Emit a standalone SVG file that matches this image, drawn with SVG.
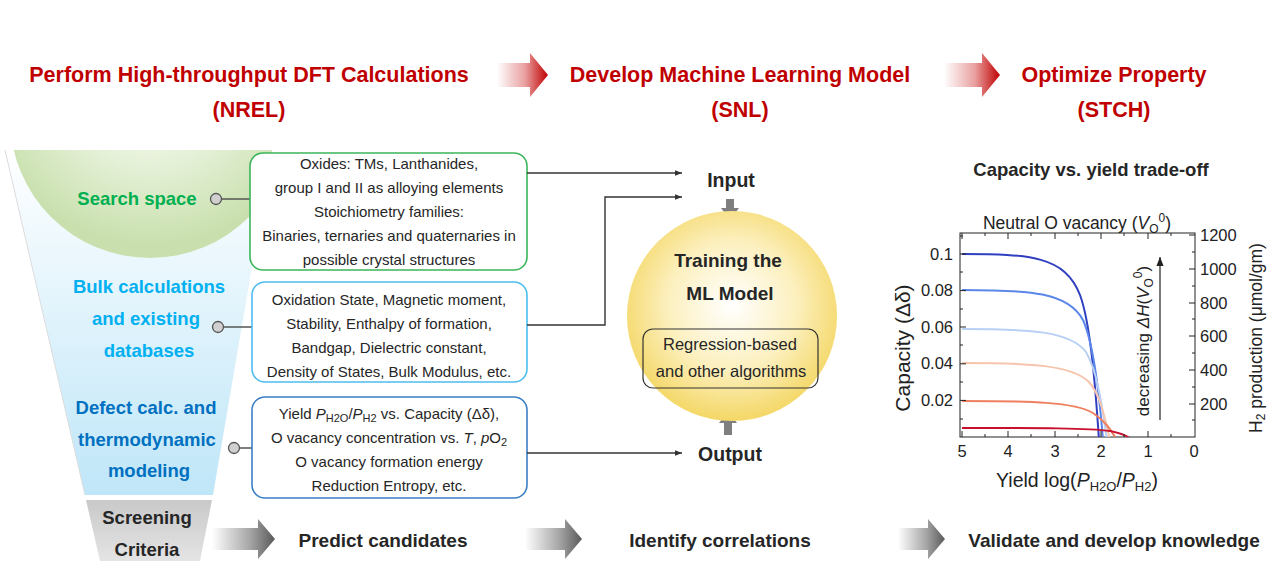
<svg xmlns="http://www.w3.org/2000/svg" width="1268" height="561" viewBox="0 0 1268 561">
<defs>
<style>
text{font-family:"Liberation Sans",Arial,sans-serif;}
.hdr{font-size:21.5px;font-weight:bold;fill:#C00000;text-anchor:middle;}
.box{fill:#fff;stroke-width:1.6;}
.bt{font-size:15px;fill:#262626;text-anchor:middle;}
.lab{font-size:18.5px;font-weight:bold;text-anchor:middle;}
.io{font-size:19.5px;font-weight:bold;fill:#262626;text-anchor:middle;}
.step{font-size:19px;font-weight:bold;fill:#262626;text-anchor:middle;}
.conn{fill:none;stroke:#333;stroke-width:1.4;}
.dot{fill:#d0d0d0;stroke:#555;stroke-width:1.3;}
.tick{font-size:16.5px;fill:#222;}
.crv{fill:none;stroke-width:2;}
.ax{stroke:#222;stroke-width:1;}
</style>
<linearGradient id="redArr" x1="0" y1="0" x2="1" y2="0">
<stop offset="0" stop-color="#fff"/>
<stop offset="0.55" stop-color="#e9a0a0"/>
<stop offset="1" stop-color="#c00000"/>
</linearGradient>
<linearGradient id="grayArr" x1="0" y1="0" x2="1" y2="0">
<stop offset="0" stop-color="#fff"/>
<stop offset="0.6" stop-color="#a6a6a6"/>
<stop offset="1" stop-color="#595959"/>
</linearGradient>
<linearGradient id="funnelG" x1="0" y1="0" x2="0" y2="1">
<stop offset="0" stop-color="#ffffff"/>
<stop offset="1" stop-color="#bfe6f8"/>
</linearGradient>
<radialGradient id="greenG" cx="0.5" cy="0.35" r="0.6">
<stop offset="0" stop-color="#ffffff"/>
<stop offset="0.55" stop-color="#e4f0d6"/>
<stop offset="1" stop-color="#c9e0ae"/>
</radialGradient>
<radialGradient id="yellowG" cx="0.5" cy="0.45" r="0.55">
<stop offset="0" stop-color="#ffffff"/>
<stop offset="0.55" stop-color="#fcf0bf"/>
<stop offset="1" stop-color="#f4d766"/>
</radialGradient>
<linearGradient id="screenG" x1="0" y1="0" x2="0" y2="1">
<stop offset="0" stop-color="#c9c9c9"/>
<stop offset="1" stop-color="#e4e4e4"/>
</linearGradient>
<clipPath id="funnelClip"><polygon points="5,150 272,150 213,495 85,495"/></clipPath>
<clipPath id="plotClip"><rect x="960" y="233" width="235" height="204"/></clipPath>
<marker id="ah" viewBox="0 0 10 10" refX="10" refY="5" markerWidth="7" markerHeight="7" orient="auto" markerUnits="userSpaceOnUse">
<path d="M0,1 L10,5 L0,9 Z" fill="#333"/>
</marker>
<marker id="ah2" viewBox="0 0 10 10" refX="10" refY="5" markerWidth="9" markerHeight="9" orient="auto" markerUnits="userSpaceOnUse">
<path d="M0,1 L10,5 L0,9 Z" fill="#222"/>
</marker>
</defs>

<rect width="1268" height="561" fill="#fff"/>

<!-- Header -->
<g id="header">
<text class="hdr" x="249" y="82">Perform High-throughput DFT Calculations</text>
<text class="hdr" x="249" y="117">(NREL)</text>
<text class="hdr" x="740" y="82">Develop Machine Learning Model</text>
<text class="hdr" x="740" y="117">(SNL)</text>
<text class="hdr" x="1114" y="82">Optimize Property</text>
<text class="hdr" x="1114" y="117">(STCH)</text>
<path d="M497,63 H530 V53 L548,75 L530,97 V87 H497 Z" fill="url(#redArr)"/>
<path d="M944,63 H982 V53 L1000,75 L982,97 V87 H944 Z" fill="url(#redArr)"/>
</g>

<!-- Funnel -->
<g id="funnel">
<polygon points="5,150 272,150 213,495 85,495" fill="url(#funnelG)"/>
<circle cx="150" cy="118" r="140" fill="url(#greenG)" clip-path="url(#funnelClip)"/>
<line x1="5" y1="150" x2="85" y2="495" stroke="#dcdcdc" stroke-width="1"/>
</g>

<g id="screening">
<polygon points="86,500 212,500 200,561 100,561" fill="url(#screenG)"/>
<text class="lab" x="147" y="524" fill="#262626">Screening</text>
<text class="lab" x="147" y="556" fill="#262626">Criteria</text>
</g>

<g id="search-space">
<text class="lab" x="137" y="205" fill="#00B050">Search space</text>
<circle class="dot" cx="216" cy="199" r="5.5"/>
<line x1="221.5" y1="199" x2="250" y2="199" stroke="#555" stroke-width="1.5"/>
</g>

<g id="bulk">
<text class="lab" x="149" y="293" fill="#00B0F0">Bulk calculations</text>
<text class="lab" x="146" y="325" fill="#00B0F0">and existing</text>
<text class="lab" x="149" y="357" fill="#00B0F0">databases</text>
<circle class="dot" cx="218" cy="327" r="5.5"/>
<line x1="223.5" y1="327" x2="252" y2="327" stroke="#555" stroke-width="1.5"/>
</g>

<g id="defect">
<text class="lab" x="146" y="414" fill="#0070C0">Defect calc. and</text>
<text class="lab" x="147" y="446" fill="#0070C0">thermodynamic</text>
<text class="lab" x="149" y="477" fill="#0070C0">modeling</text>
<circle class="dot" cx="234" cy="448" r="5.5"/>
<line x1="239.5" y1="448" x2="252" y2="448" stroke="#555" stroke-width="1.5"/>
</g>

<!-- Boxes -->
<g id="box-search">
<rect class="box" x="250" y="153" width="277" height="117" rx="13" stroke="#3cb55a"/>
<text class="bt" x="389" y="169">Oxides: TMs, Lanthanides,</text>
<text class="bt" x="389" y="193">group I and II as alloying elements</text>
<text class="bt" x="389" y="217">Stoichiometry families:</text>
<text class="bt" x="389" y="241">Binaries, ternaries and quaternaries in</text>
<text class="bt" x="389" y="265">possible crystal structures</text>
</g>

<g id="box-bulk">
<rect class="box" x="252" y="282" width="275" height="100" rx="13" stroke="#4dbdf0"/>
<text class="bt" x="389" y="305">Oxidation State, Magnetic moment,</text>
<text class="bt" x="389" y="329">Stability, Enthalpy of formation,</text>
<text class="bt" x="389" y="353">Bandgap, Dielectric constant,</text>
<text class="bt" x="389" y="377">Density of States, Bulk Modulus, etc.</text>
</g>

<g id="box-defect">
<rect class="box" x="252" y="397" width="275" height="101" rx="13" stroke="#3a7fc4"/>
<text class="bt" x="389" y="419">Yield <tspan font-style="italic">P</tspan><tspan font-size="11" dy="3">H2O</tspan><tspan dy="-3">/</tspan><tspan font-style="italic">P</tspan><tspan font-size="11" dy="3">H2</tspan><tspan dy="-3"> vs. Capacity (Δδ),</tspan></text>
<text class="bt" x="389" y="443">O vacancy concentration vs. <tspan font-style="italic">T</tspan>, <tspan font-style="italic">p</tspan>O<tspan font-size="11" dy="3">2</tspan></text>
<text class="bt" x="389" y="467">O vacancy formation energy</text>
<text class="bt" x="389" y="491">Reduction Entropy, etc.</text>
</g>

<!-- Connectors -->
<g id="connectors">
<polyline class="conn" points="527,173 682,173" marker-end="url(#ah)"/>
<polyline class="conn" points="527,325 605,325 605,197 682,197" marker-end="url(#ah)"/>
<polyline class="conn" points="527,453 682,453" marker-end="url(#ah)"/>
<path d="M726,199 H734 V208 H739 L730,220 L721,208 H726 Z" fill="#7f7f7f"/>
<path d="M724,435 H732 V423 H737 L728,411 L719,423 H724 Z" fill="#7f7f7f"/>
</g>

<g id="input"><text class="io" x="731" y="187">Input</text></g>
<g id="output"><text class="io" x="730" y="461">Output</text></g>

<!-- ML model -->
<g id="ml-model">
<circle cx="732" cy="316" r="105" fill="url(#yellowG)"/>
<text x="728" y="267" font-size="19" font-weight="bold" fill="#262626" text-anchor="middle">Training the</text>
<text x="730" y="300" font-size="19" font-weight="bold" fill="#262626" text-anchor="middle">ML Model</text>
<rect x="643" y="329" width="175" height="59" rx="10" fill="none" stroke="#333" stroke-width="1.2"/>
<text x="730" y="350" font-size="16.5" fill="#262626" text-anchor="middle">Regression-based</text>
<text x="731" y="377" font-size="16.5" fill="#262626" text-anchor="middle">and other algorithms</text>
</g>

<!-- Bottom steps -->
<g id="steps">
<path d="M212,528 H258 V519 L275,539 L258,559 V550 H212 Z" fill="url(#grayArr)"/>
<text class="step" x="383" y="547">Predict candidates</text>
<path d="M525,528 H565 V519 L582,539 L565,559 V550 H525 Z" fill="url(#grayArr)"/>
<text class="step" x="720" y="547">Identify correlations</text>
<path d="M898,528 H928 V519 L945,539 L928,559 V550 H898 Z" fill="url(#grayArr)"/>
<text class="step" x="1114" y="547">Validate and develop knowledge</text>
</g>

<!-- Plot -->
<g id="plot">
<text x="1091" y="176" font-size="18.5" font-weight="bold" fill="#262626" text-anchor="middle">Capacity vs. yield trade-off</text>
<text x="1077" y="229" font-size="17.5" fill="#222" text-anchor="middle">Neutral O vacancy (<tspan font-style="italic">V</tspan><tspan font-size="12" dy="4">O</tspan><tspan font-size="12" dy="-11">0</tspan><tspan dy="7">)</tspan></text>
<rect x="960" y="233" width="235" height="204" fill="#fff" class="ax"/>
<g clip-path="url(#plotClip)">
<path class="crv" stroke="#2f3fc0" d="M962,254 C1030,254 1065,256 1080,295 C1090,322 1095,380 1099,440"/>
<path class="crv" stroke="#5b86ea" d="M962,290 C1030,290 1068,292 1083,320 C1093,342 1099,390 1103,440"/>
<path class="crv" stroke="#b9d0f5" d="M962,329 C1030,329 1070,331 1086,352 C1097,370 1102,405 1107,440"/>
<path class="crv" stroke="#f7c4ad" d="M962,363 C1030,363 1072,365 1089,382 C1100,394 1105,418 1110,440"/>
<path class="crv" stroke="#ee7f61" d="M962,401 C1030,401 1075,402 1093,413 C1105,421 1111,430 1117,440"/>
<path class="crv" stroke="#c8102e" d="M962,428 C1040,428 1090,428 1110,431 C1120,433 1127,435 1132,440"/>
</g>
<g class="ax">
<path d="M960,254 h6 M960,290.6 h6 M960,327 h6 M960,363.8 h6 M960,400.4 h6 M960,272 h3 M960,309 h3 M960,345 h3 M960,382 h3 M960,419 h3 M960,236 h3"/>
<path d="M1195,235 h-6 M1195,269 h-6 M1195,303 h-6 M1195,336 h-6 M1195,370 h-6 M1195,404 h-6 M1195,252 h-3 M1195,286 h-3 M1195,319 h-3 M1195,353 h-3 M1195,387 h-3 M1195,420 h-3"/>
<path d="M962,437 v-6 M1008,437 v-6 M1055,437 v-6 M1101,437 v-6 M1148,437 v-6 M985,437 v-3 M1031,437 v-3 M1078,437 v-3 M1124,437 v-3 M1171,437 v-3"/>
<path d="M962,233 v6 M1008,233 v6 M1055,233 v6 M1101,233 v6 M1148,233 v6 M985,233 v3 M1031,233 v3 M1078,233 v3 M1124,233 v3 M1171,233 v3"/>
</g>
<g class="tick" text-anchor="end">
<text x="953" y="260">0.1</text>
<text x="953" y="296">0.08</text>
<text x="953" y="333">0.06</text>
<text x="953" y="369">0.04</text>
<text x="953" y="406">0.02</text>
</g>
<g class="tick" text-anchor="start">
<text x="1200" y="241">1200</text>
<text x="1200" y="275">1000</text>
<text x="1200" y="309">800</text>
<text x="1200" y="342">600</text>
<text x="1200" y="376">400</text>
<text x="1200" y="410">200</text>
</g>
<g class="tick" text-anchor="middle">
<text x="962" y="457">5</text>
<text x="1008" y="457">4</text>
<text x="1055" y="457">3</text>
<text x="1101" y="457">2</text>
<text x="1148" y="457">1</text>
<text x="1194" y="457">0</text>
</g>
<text x="1077" y="487" font-size="19.5" fill="#222" text-anchor="middle">Yield log(<tspan font-style="italic">P</tspan><tspan font-size="13" dy="4">H2O</tspan><tspan dy="-4">/</tspan><tspan font-style="italic">P</tspan><tspan font-size="13" dy="4">H2</tspan><tspan dy="-4">)</tspan></text>
<text transform="translate(910,348) rotate(-90)" font-size="21" fill="#222" text-anchor="middle">Capacity (Δδ)</text>
<text transform="translate(1262,338) rotate(-90)" font-size="17.5" fill="#222" text-anchor="middle">H<tspan font-size="12" dy="3">2</tspan><tspan dy="-3"> production (μmol/gm)</tspan></text>
<line x1="1160" y1="420" x2="1160" y2="257" stroke="#222" stroke-width="1.2" marker-end="url(#ah2)"/>
<text transform="translate(1149,341) rotate(-90)" font-size="17" fill="#222" text-anchor="middle">decreasing  <tspan font-style="italic">ΔH</tspan>(<tspan font-style="italic">V</tspan><tspan font-size="12" dy="4">O</tspan><tspan font-size="12" dy="-11">0</tspan><tspan dy="7">)</tspan></text>
</g>
</svg>
